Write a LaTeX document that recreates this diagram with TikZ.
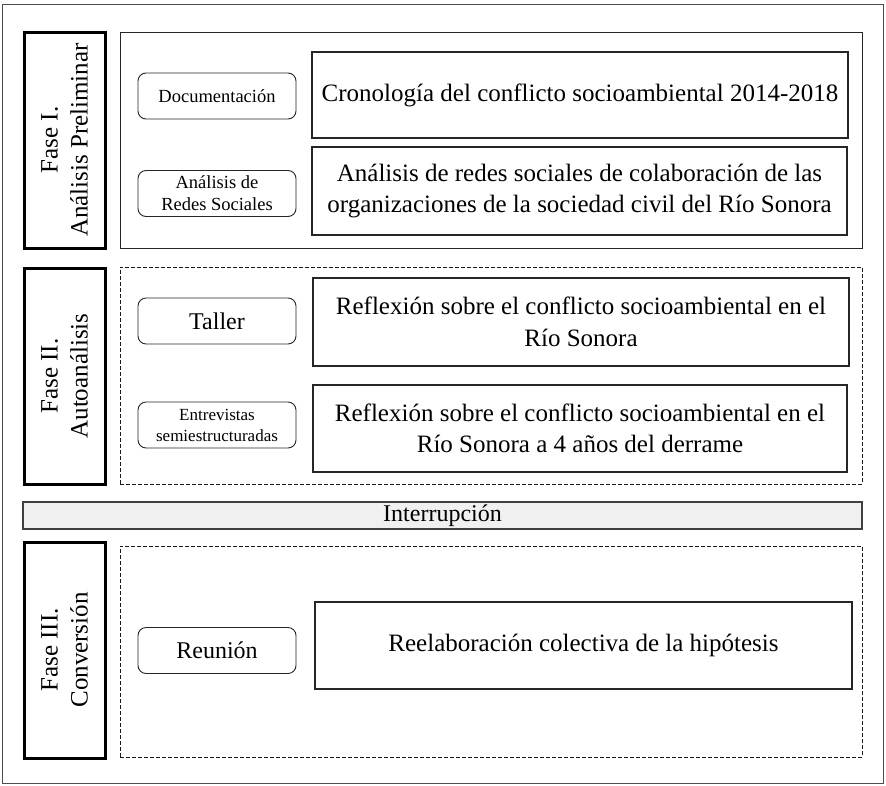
\documentclass[tikz,border=0pt]{standalone}
\usepackage{fontspec}
\setmainfont{Liberation Serif}
\begin{document}
\begin{tikzpicture}[x=1pt,y=-1pt,
  frameline/.style={draw=black!85, line width=1pt},
  outerbox/.style={frameline, draw=black!70, line width=1pt, inner sep=0pt},
  phasebox/.style={draw=black, line width=3pt, rotate=90, inner sep=0pt,
    minimum width=216pt, minimum height=81pt, align=center,
    font=\fontsize{25}{30}\selectfont},
  sectsolid/.style={frameline, inner sep=0pt, minimum width=742pt},
  sectdash/.style={draw=black!90, line width=0.9pt, dash pattern=on 4pt off 2pt, inner sep=0pt, minimum width=742pt},
  roundbox/.style={draw=black!85, line width=0.9pt, rounded corners=8pt, inner sep=0pt,
    minimum width=158pt, minimum height=46pt, align=center},
  mainbox/.style={draw=black!85, line width=1.1pt, inner sep=0pt, align=center,
    font=\fontsize{25}{31.5}\selectfont},
  interbox/.style={draw=black!75, line width=1.4pt, fill=black!6, inner sep=0pt,
    minimum width=839pt, minimum height=27pt, font=\fontsize{24}{28}\selectfont}
]
\path[fill=white] (0,0) rectangle (886,785);
\useasboundingbox (0,0) rectangle (886,785);

% outer frame
\node[outerbox, minimum width=881pt, minimum height=779pt] (outer) at (442.5,393.5) {};

% sections
\node[sectsolid, minimum height=216pt] (s1) at (491,140) {};
\node[sectdash, minimum height=217pt] (s2) at (491,375.5) {};
\node[sectdash, minimum height=211pt] (s3) at (491,651.5) {};

% phase boxes
\node[phasebox] (p1) at (64.5,140) {Fase I.\\Análisis Preliminar};
\node[phasebox] (p2) at (64.5,376) {Fase II.\\Autoanálisis};
\node[phasebox] (p3) at (64.5,650) {Fase III.\\Conversión};

% method boxes
\node[roundbox, font=\fontsize{18.5}{22}\selectfont] (doc) at (217,96) {Documentación};
\node[roundbox, font=\fontsize{18.5}{22}\selectfont] (ars) at (217,193.5) {Análisis de\\Redes Sociales};
\node[roundbox, font=\fontsize{24}{28}\selectfont] (taller) at (217,321) {Taller};
\node[roundbox, font=\fontsize{17}{21}\selectfont] (entrev) at (217,425) {Entrevistas\\semiestructuradas};
\node[roundbox, font=\fontsize{24}{28}\selectfont] (reunion) at (217,650.5) {Reunión};

% result boxes
\node[mainbox, minimum width=536pt, minimum height=86pt] (cron) at (580,95)
  {Cronología del conflicto socioambiental 2014-2018};
\node[mainbox, minimum width=535pt, minimum height=88pt] (anr) at (579.5,191)
  {Análisis de redes sociales de colaboración de las\\organizaciones de la sociedad civil del Río Sonora};
\node[mainbox, minimum width=536pt, minimum height=88pt] (ref1) at (581,322)
  {Reflexión sobre el conflicto socioambiental en el\\Río Sonora};
\node[mainbox, minimum width=534pt, minimum height=87pt] (ref2) at (580,428.5)
  {Reflexión sobre el conflicto socioambiental en el\\Río Sonora a 4 años del derrame};
\node[mainbox, minimum width=537pt, minimum height=87pt] (reel) at (583.5,645.5)
  {Reelaboración colectiva de la hipótesis};

% interruption bar
\node[interbox] (inter) at (442.5,515.5) {Interrupción};
\end{tikzpicture}
\end{document}
